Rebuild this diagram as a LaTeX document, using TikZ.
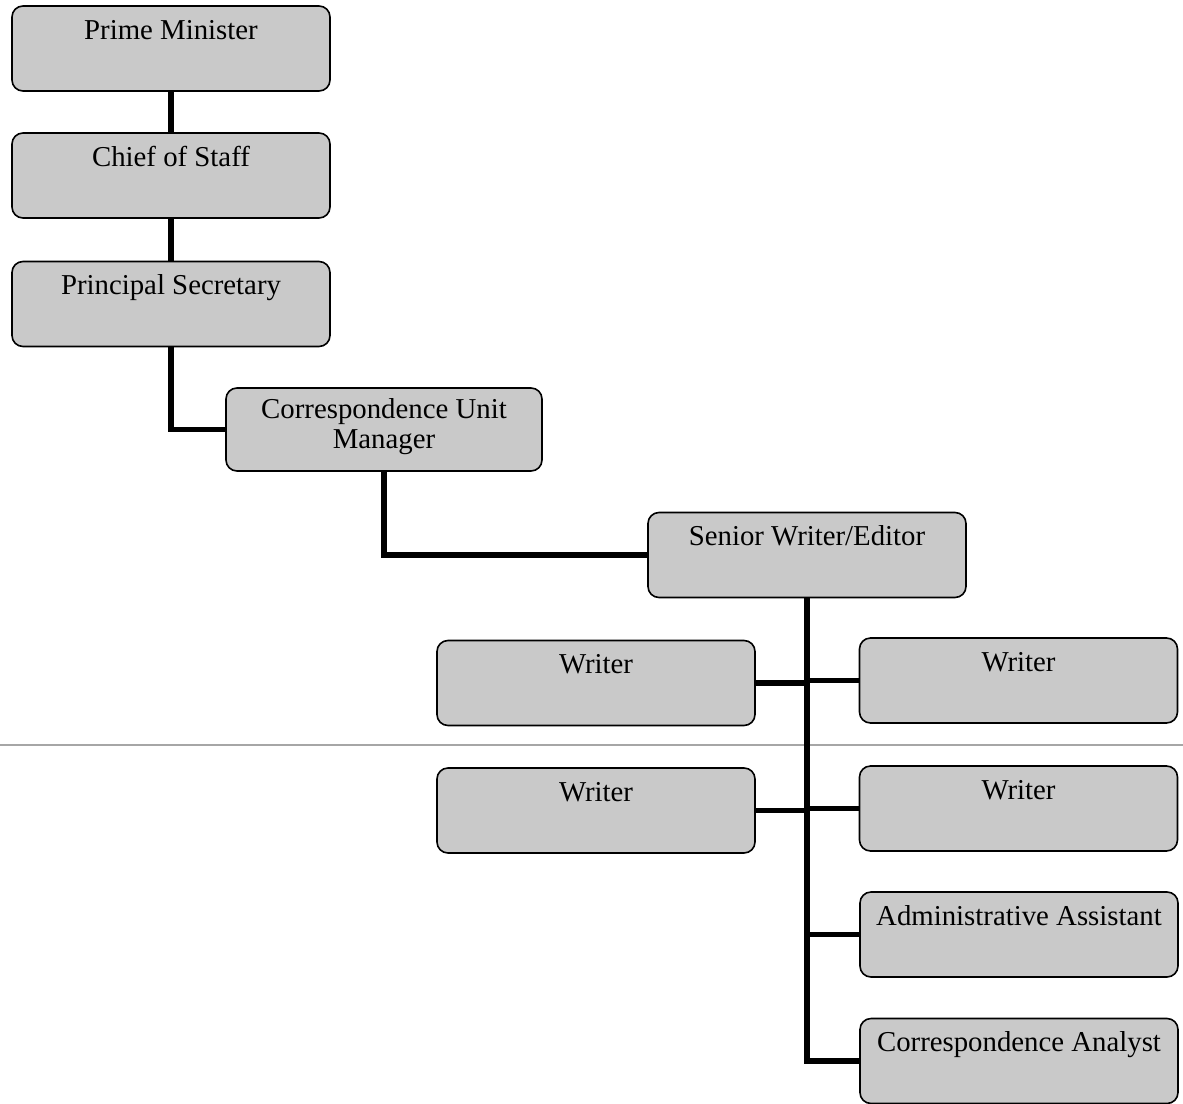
\documentclass[tikz,border=0pt]{standalone}
\usepackage{fontspec}
\setmainfont{Liberation Serif}
\usetikzlibrary{backgrounds}
\begin{document}
\begin{tikzpicture}[x=1pt,y=1pt,
  orgbox/.style={draw=black, line width=1.6pt, fill=gray!42, rounded corners=11pt,
    minimum width=318pt, minimum height=85pt, inner xsep=4pt, inner ysep=7pt,
    font=\fontsize{28.8}{31}\selectfont, text height=26pt, text depth=45pt},
  twoline/.style={text height=23pt, text depth=46pt},
  link/.style={line width=5.5pt, line cap=rect},
  rule/.style={draw=gray!70, line width=1.3pt}]
\useasboundingbox (0,0) rectangle (1183,-1103);
\coordinate (rl) at (0,-745);
\coordinate (rr) at (1183,-745);

\node[orgbox] (pm)  at (171,-48.5) {Prime Minister};
\node[orgbox] (cos) at (171,-175.5) {Chief of Staff};
\node[orgbox] (ps)  at (171,-304) {Principal Secretary};
\node[orgbox,twoline,minimum width=316pt,minimum height=83pt] (cum) at (384,-429.5)
  {\begin{tabular}[t]{@{}c@{}}Correspondence Unit\\[-1pt]Manager\end{tabular}};
\node[orgbox] (swe) at (807,-555) {Senior Writer/Editor};
\node[orgbox] (w1l) at (596,-683) {Writer};
\node[orgbox] (w1r) at (1018.5,-680.5) {Writer};
\node[orgbox] (w2l) at (596,-810.5) {Writer};
\node[orgbox] (w2r) at (1018.5,-808.5) {Writer};
\node[orgbox] (aa)  at (1019,-934.5) {Administrative Assistant};
\node[orgbox] (ca)  at (1019,-1061) {Correspondence Analyst};

\begin{scope}[on background layer]
\draw[rule] (rl) -- (rr);
\draw[link] (pm.south) -- (cos.north);
\draw[link] (cos.south) -- (ps.north);
\draw[link] (ps.south) |- (cum.west);
\draw[link] (cum.south) |- (swe.west);
\draw[link] (swe.south) |- (ca.west);
\draw[link] (w1l.east) -- (w1l.east -| swe.south);
\draw[link] (w1r.west) -- (w1r.west -| swe.south);
\draw[link] (w2l.east) -- (w2l.east -| swe.south);
\draw[link] (w2r.west) -- (w2r.west -| swe.south);
\draw[link] (aa.west) -- (aa.west -| swe.south);
\end{scope}
\end{tikzpicture}
\end{document}
